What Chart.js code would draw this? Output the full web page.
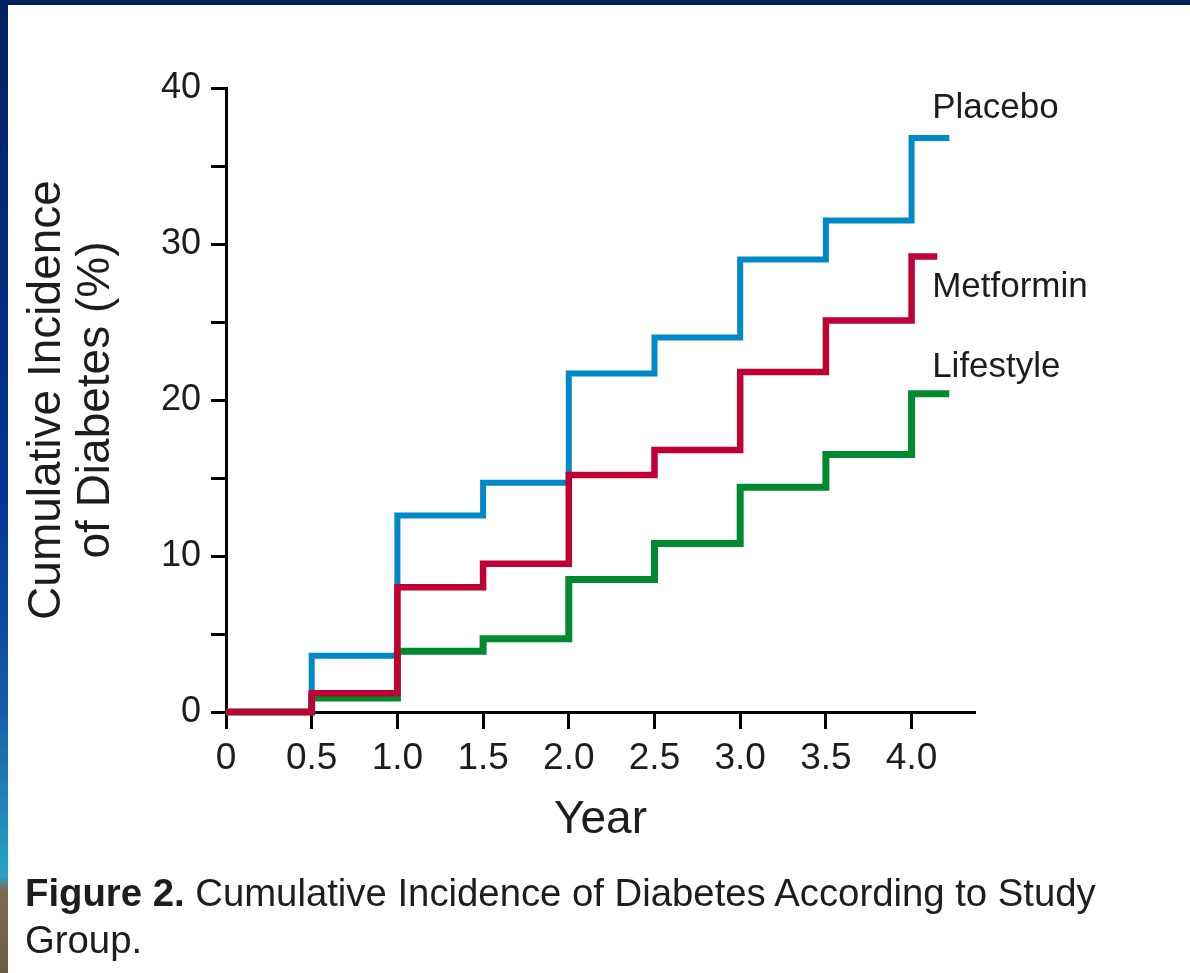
<!DOCTYPE html>
<html>
<head>
<meta charset="utf-8">
<script src="https://cdn.jsdelivr.net/npm/chart.js@4.4.1/dist/chart.umd.min.js"></script>
<style>
  html, body { margin: 0; padding: 0; }
  body {
    width: 1190px; height: 973px; position: relative; overflow: hidden;
    background: #002060;
    font-family: "Liberation Sans", Arial, sans-serif;
  }
  #strip {
    position: absolute; left: 0; top: 0; width: 8px; height: 973px;
    background: linear-gradient(to bottom, #002060 0%, #043494 50%, #1458aa 72%, #28a4c4 90%, #7a6a50 91.5%, #6c5d46 100%);
  }
  #panel { position: absolute; left: 8px; top: 5px; right: 0; bottom: 0; background: #fff; }
  #chartBox { position: absolute; left: 0; top: 0; width: 1190px; height: 973px; }
  #caption {
    position: absolute; left: 25px; top: 869px;
    font-size: 38.3px; line-height: 47px; color: #1f1c1d;
    white-space: nowrap;
  }
  #caption b { font-weight: bold; }
</style>
</head>
<body>
<div id="strip"></div>
<div id="panel"></div>
<div id="chartBox"><canvas id="incidenceChart"></canvas></div>
<div id="caption"><b>Figure 2.</b> Cumulative Incidence of Diabetes According to Study<br>Group.</div>

<script>
// Cumulative incidence (%) at each half-year step
const stepYears = [0, 0.5, 1.0, 1.5, 2.0, 2.5, 3.0, 3.5, 4.0];
const placebo   = [0, 3.6, 12.6, 14.7, 21.7, 24.0, 29.0, 31.5, 36.8];
const metformin = [0, 1.2, 8.0, 9.5, 15.2, 16.8, 21.8, 25.1, 29.2];
const lifestyle = [0, 0.9, 3.9, 4.7, 8.5, 10.8, 14.4, 16.5, 20.4];

// where each curve stops on the right
const seriesNames = ['Placebo', 'Metformin', 'Lifestyle'];
const seriesEnds  = [4.22, 4.15, 4.22];

const xTickLabels = ['0', '0.5', '1.0', '1.5', '2.0', '2.5', '3.0', '3.5', '4.0'];
const yTickLabels = ['0', '', '10', '', '20', '', '30', '', '40'];

const FONT = '"Liberation Sans", Arial, sans-serif';
const TEXT = '#1f1c1d';

function toSteps(values, end) {
    const pts = values.map((v, i) => ({ x: stepYears[i], y: v }));
    pts.push({ x: end, y: values[values.length - 1] });
    return pts;
}

// Series names next to the line ends
const seriesLabelPlugin = {
    id: 'seriesLabels',
    afterDatasetsDraw(chart, args, opts) {
        const { ctx, scales: { x, y } } = chart;
        ctx.save();
        ctx.font = opts.font;
        ctx.fillStyle = opts.color;
        ctx.textAlign = 'left';
        ctx.textBaseline = 'middle';
        opts.items.forEach(item => {
            ctx.fillText(item.text, x.getPixelForValue(item.x), y.getPixelForValue(item.y));
        });
        ctx.restore();
    }
};

const ctx = document.getElementById('incidenceChart');
new Chart(ctx, {
    type: 'line',
    data: {
        datasets: [
            {
                label: seriesNames[0],
                data: toSteps(placebo, seriesEnds[0]),
                borderColor: '#0089c7',
                borderWidth: 6,
                order: 2
            },
            {
                label: seriesNames[1],
                data: toSteps(metformin, seriesEnds[1]),
                borderColor: '#c00034',
                borderWidth: 6.5,
                order: 0
            },
            {
                label: seriesNames[2],
                data: toSteps(lifestyle, seriesEnds[2]),
                borderColor: '#00892e',
                borderWidth: 7,
                order: 1
            }
        ].map(ds => Object.assign(ds, {
            stepped: 'before',
            pointRadius: 0,
            fill: false,
            clip: false,
            borderCapStyle: 'butt',
            borderJoinStyle: 'miter'
        }))
    },
    options: {
        responsive: true,
        maintainAspectRatio: false,
        animation: false,
        layout: {
            padding: { left: 0, top: 88, right: 215, bottom: 111 }
        },
        plugins: {
            legend: { display: false },
            tooltip: { enabled: false },
            seriesLabels: {
                font: '35px ' + FONT,
                color: TEXT,
                items: [
                    { text: seriesNames[0], x: 4.12, y: 38.7 },
                    { text: seriesNames[1], x: 4.12, y: 27.2 },
                    { text: seriesNames[2], x: 4.12, y: 22.1 }
                ]
            }
        },
        scales: {
            x: {
                type: 'linear',
                min: 0,
                max: 4.37,
                afterFit: (scale) => { scale.height = 150; },
                border: { display: true, color: '#000', width: 3 },
                grid: { drawOnChartArea: false, drawTicks: true, tickLength: 17, tickWidth: 3, color: '#000' },
                ticks: {
                    stepSize: 0.5,
                    includeBounds: false,
                    autoSkip: false,
                    maxRotation: 0,
                    padding: 8,
                    color: TEXT,
                    font: { family: FONT, size: 37 },
                    callback: (value, index) => xTickLabels[index] ?? ''
                },
                title: {
                    display: true,
                    text: 'Year',
                    color: TEXT,
                    font: { family: FONT, size: 46, lineHeight: 1.06 },
                    padding: { top: 0, bottom: 17 }
                }
            },
            y: {
                min: 0,
                max: 40,
                afterFit: (scale) => { scale.width = 226; },
                border: { display: true, color: '#000', width: 3 },
                grid: { drawOnChartArea: false, drawTicks: true, tickLength: 15, tickWidth: 3, color: '#000' },
                ticks: {
                    stepSize: 5,
                    autoSkip: false,
                    padding: 10,
                    color: TEXT,
                    font: { family: FONT, size: 36 },
                    callback: (value, index) => yTickLabels[index] ?? ''
                },
                title: {
                    display: true,
                    text: ['Cumulative Incidence', 'of Diabetes (%)'],
                    color: TEXT,
                    font: { family: FONT, size: 46, lineHeight: 1.06 },
                    padding: { top: 23, bottom: 0 }
                }
            }
        }
    },
    plugins: [seriesLabelPlugin]
});
</script>
</body>
</html>
